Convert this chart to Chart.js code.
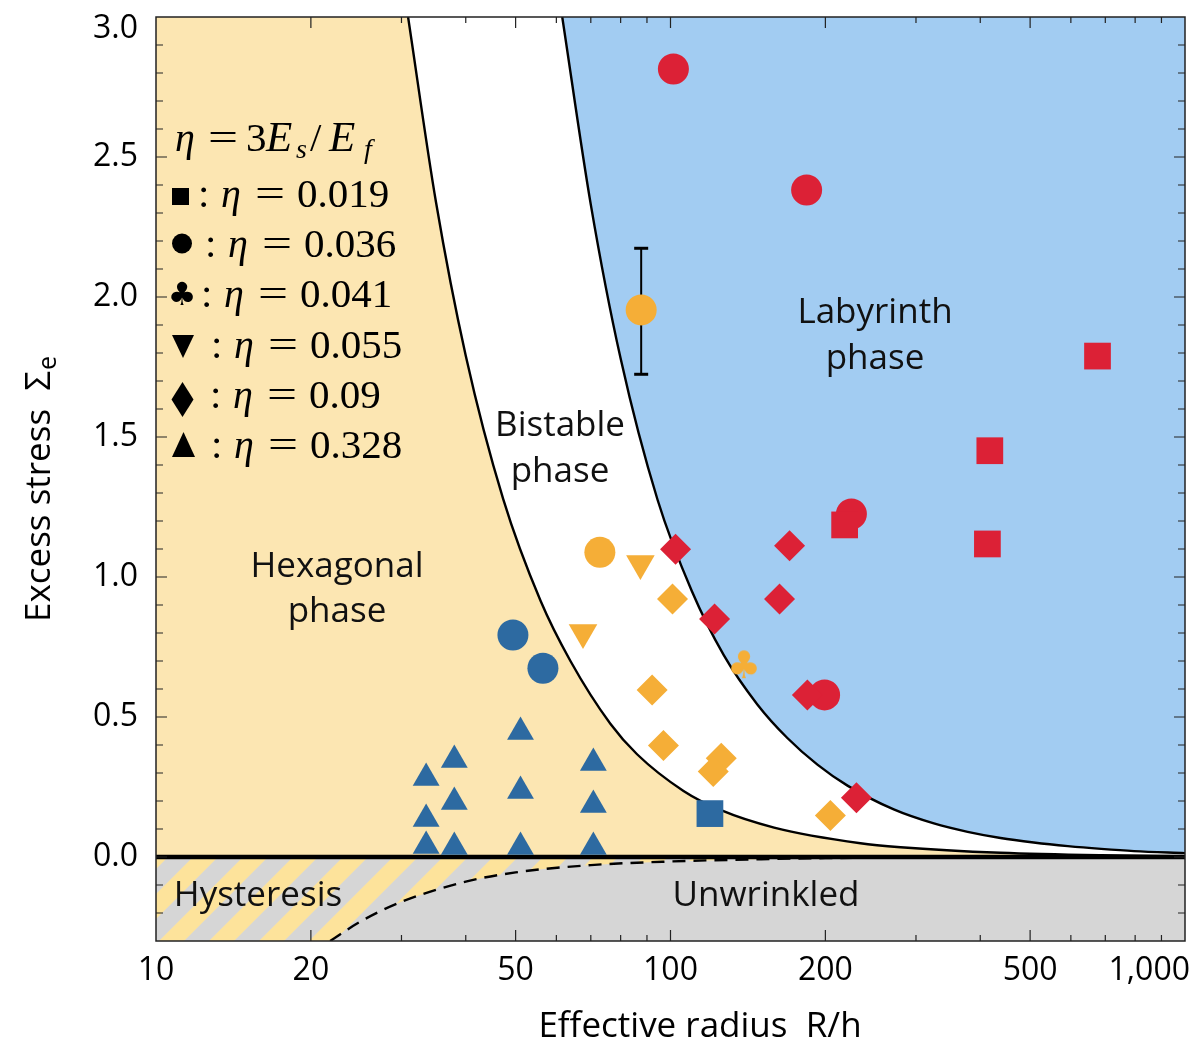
<!DOCTYPE html>
<html>
<head>
<meta charset="utf-8">
<script src="https://cdn.jsdelivr.net/npm/chart.js@4.4.1/dist/chart.umd.min.js"></script>
<style>
  html, body { margin: 0; padding: 0; overflow: hidden; background: #fff; }
  #wrap { width: 1194px; height: 1043px; }
  canvas { display: block; }
</style>
</head>
<body>
<div id="wrap"><canvas id="myChart"></canvas></div>
<script>
// axis ranges and ticks
const xMin = 10, xMax = 1000;
const yMin = -0.3, yMax = 3.0;
const xTickLabels = [10, 20, 50, 100, 200, 500, 1000];
const xMinorTicks = [30, 40, 60, 70, 80, 90, 300, 400, 600, 700, 800, 900];
const yTickLabels = [0, 0.5, 1.0, 1.5, 2.0, 2.5, 3.0];
const yMinorTicks = [-0.2, -0.1, 0.1, 0.2, 0.3, 0.4, 0.6, 0.7, 0.8, 0.9, 1.1, 1.2, 1.3, 1.4,
  1.6, 1.7, 1.8, 1.9, 2.1, 2.2, 2.3, 2.4, 2.6, 2.7, 2.8, 2.9];

// phase boundaries (R/h, excess stress)
const hexEdgeR = [30.9, 35, 40, 47.3, 55.9, 63.9, 76.4, 86.1, 106, 125, 159, 234, 280, 438, 687, 1000];
const hexEdgeS = [3.0, 2.34, 1.79, 1.278, 0.915, 0.70, 0.476, 0.367, 0.236, 0.168, 0.105, 0.049, 0.035, 0.015, 0.006, 0.003];
const labEdgeR = [61.6, 70, 80, 94.4, 110, 127, 147.5, 168.7, 193, 220.8, 271.6, 325, 378, 438, 508, 592, 687, 796, 1000];
const labEdgeS = [3.0, 2.33, 1.78, 1.275, 0.95, 0.72, 0.545, 0.425, 0.33, 0.255, 0.17, 0.12, 0.09, 0.068, 0.052, 0.039, 0.029, 0.021, 0.014];
const flatEdgeR = [21.8, 25, 30, 40, 50, 70, 100, 150, 200, 400, 1000];
const flatEdgeS = [-0.3, -0.23, -0.16, -0.088, -0.055, -0.029, -0.016, -0.008, -0.004, -0.001, 0];

// eta = 0.019 (squares)
const sqRedR = [676, 417.5, 413, 218];
const sqRedS = [1.789, 1.451, 1.118, 1.186];
const sqBlueR = [119.3];
const sqBlueS = [0.155];
// eta = 0.036 (circles)
const ciRedR = [101.3, 183.9, 224.7, 199.3];
const ciRedS = [2.814, 2.382, 1.225, 0.579];
const ciOrangeR = [87.7, 72.9];
const ciOrangeS = [1.954, 1.088];
const ciBlueR = [49.4, 56.5];
const ciBlueS = [0.793, 0.674];
// error bar on the orange circle
const errR = [87.7];
const errLow = [1.724];
const errHigh = [2.174];
// eta = 0.041 (club)
const clubR = [138.9];
const clubS = [0.678];
// eta = 0.055 (down triangles)
const tdOrangeR = [87.4, 67.6];
const tdOrangeS = [1.048, 0.802];
// eta = 0.09 (diamonds)
const diRedR = [102.3, 170.4, 162.9, 121.8, 184.5, 229.8];
const diRedS = [1.099, 1.112, 0.921, 0.850, 0.579, 0.212];
const diOrangeR = [100.9, 92.1, 96.9, 125.5, 121.1, 204.5];
const diOrangeS = [0.921, 0.596, 0.398, 0.353, 0.305, 0.148];
// eta = 0.328 (up triangles)
const tuBlueR = [33.5, 33.5, 33.5, 38.0, 38.0, 38.0, 51.1, 51.1, 51.1, 70.8, 70.8, 70.8];
const tuBlueS = [0.282, 0.136, 0.039, 0.346, 0.196, 0.036, 0.446, 0.236, 0.036, 0.336, 0.186, 0.036];

const RED = '#DC2136', ORANGE = '#F5AE37', BLUE = '#2D6AA1';
const TAN = '#FCE6B2', SKY = '#A2CCF2', GREY = '#D6D6D6', STRIPE = '#FDE39B';
const SANS = '"Open Sans", "Noto Sans", sans-serif';
const SERIF = '"Liberation Serif", "DejaVu Serif", serif';

const pts = (xs, ys) => xs.map((v, i) => ({x: v, y: ys[i]}));

function markers(xs, ys, color, style, radius, rotation) {
  return {
    data: pts(xs, ys),
    pointStyle: style,
    pointRadius: radius,
    pointRotation: rotation || 0,
    pointBackgroundColor: color,
    pointBorderWidth: 0,
    showLine: false,
    order: 1,
  };
}

function boundary(xs, ys, fill, color, order, dash) {
  return {
    type: 'line',
    data: pts(xs, ys),
    borderColor: '#000',
    borderWidth: 2.4,
    borderDash: dash || [],
    pointRadius: 0,
    fill: fill,
    backgroundColor: color,
    cubicInterpolationMode: 'monotone',
    order: order,
  };
}

function clubImage() {
  let c = document.createElement('canvas');
  c.width = 44; c.height = 44;
  let g = c.getContext('2d');
  g.fillStyle = ORANGE;
  g.font = '38px "DejaVu Sans"';
  g.textAlign = 'center';
  g.textBaseline = 'middle';
  g.fillText('\u2663', 22, 23);
  return c;
}

function hatchTile() {
  let c = document.createElement('canvas');
  c.width = 50; c.height = 50;
  let g = c.getContext('2d');
  g.fillStyle = GREY;
  g.fillRect(0, 0, 50, 50);
  g.fillStyle = STRIPE;
  g.beginPath(); g.moveTo(0, 0); g.lineTo(25, 0); g.lineTo(0, 25); g.closePath(); g.fill();
  g.beginPath(); g.moveTo(50, 0); g.lineTo(50, 25); g.lineTo(25, 50); g.lineTo(0, 50); g.closePath(); g.fill();
  return c;
}

function text(ctx, s, x, y, font, scaleX) {
  ctx.save();
  ctx.font = font;
  ctx.translate(x, y);
  ctx.scale(scaleX || 1, 1);
  ctx.fillText(s, 0, 0);
  ctx.restore();
}

function drawLegend(ctx) {
  ctx.save();
  ctx.fillStyle = '#000';
  ctx.textAlign = 'left';
  ctx.textBaseline = 'alphabetic';
  const it = 'italic 40px ' + SERIF, rm = '41px ' + SERIF, sub = 'italic 28px ' + SERIF;
  const bigE = 'italic 43px ' + SERIF;
  // header line
  text(ctx, '\u03B7', 175, 151, it);
  text(ctx, '=', 208, 151, rm, 1.3);
  text(ctx, '3', 246, 151, rm);
  text(ctx, 'E', 266, 151, bigE);
  text(ctx, 's', 296, 158, sub);
  text(ctx, '/', 310, 151, rm);
  text(ctx, 'E', 329, 151, bigE);
  text(ctx, 'f', 364, 158, sub);

  const values = ['0.019', '0.036', '0.041', '0.055', '0.09', '0.328'];
  const colonX = [198, 205, 201, 211, 210, 211];
  const base = [207, 257, 307, 358, 408, 458];
  values.forEach((v, i) => {
    const cx = colonX[i], by = base[i];
    text(ctx, ':', cx, by, rm);
    text(ctx, '\u03B7', cx + 23, by, it);
    text(ctx, '=', cx + 57, by, rm, 1.3);
    text(ctx, v, cx + 99, by, rm);
  });

  // symbols
  ctx.fillRect(172, 188, 17, 17);
  ctx.beginPath(); ctx.arc(182, 243.5, 10, 0, Math.PI * 2); ctx.fill();
  ctx.font = '32px "DejaVu Sans"';
  ctx.textAlign = 'center';
  ctx.textBaseline = 'middle';
  ctx.fillText('\u2663', 182, 297);
  ctx.beginPath(); ctx.moveTo(172, 335); ctx.lineTo(194, 335); ctx.lineTo(183, 358); ctx.closePath(); ctx.fill();
  ctx.beginPath(); ctx.moveTo(182.5, 382); ctx.lineTo(193.5, 399.5); ctx.lineTo(182.5, 417); ctx.lineTo(171.5, 399.5); ctx.closePath(); ctx.fill();
  ctx.beginPath(); ctx.moveTo(172, 457); ctx.lineTo(195, 457); ctx.lineTo(183.5, 432); ctx.closePath(); ctx.fill();
  ctx.restore();
}

const decor = {
  id: 'decor',
  beforeDatasetsDraw(chart) {
    const {ctx, chartArea: a, scales: {y}} = chart;
    const y0 = y.getPixelForValue(0);
    ctx.save();
    ctx.fillStyle = TAN;
    ctx.fillRect(a.left, a.top, a.width, y0 - a.top);
    ctx.fillStyle = ctx.createPattern(hatchTile(), 'repeat');
    ctx.fillRect(a.left, y0, a.width, a.bottom - y0);
    ctx.restore();
  },
  afterDatasetsDraw(chart) {
    const ctx = chart.ctx;
    ctx.save();
    ctx.fillStyle = '#111';
    ctx.font = '35px ' + SANS;
    ctx.textAlign = 'center';
    ctx.textBaseline = 'middle';
    ctx.fillText('Hexagonal', 337, 567);
    ctx.fillText('phase', 337, 612);
    ctx.fillText('Bistable', 560, 426);
    ctx.fillText('phase', 560, 472);
    ctx.fillText('Labyrinth', 875, 313);
    ctx.fillText('phase', 875, 359);
    ctx.fillText('Hysteresis', 258, 896);
    ctx.fillText('Unwrinkled', 766, 896);
    ctx.restore();
    drawLegend(ctx);
  },
  afterDraw(chart) {
    const {ctx, chartArea: a, scales: {x, y}} = chart;
    ctx.save();
    ctx.strokeStyle = '#222';
    ctx.lineWidth = 1.5;
    ctx.strokeRect(a.left, a.top, a.width, a.height);

    ctx.lineWidth = 1.2;
    ctx.beginPath();
    const xt = xTickLabels.map(v => [v, 11]).concat(xMinorTicks.map(v => [v, 6]));
    for (const [v, len] of xt) {
      const px = x.getPixelForValue(v);
      if (px <= a.left + 1 || px >= a.right - 1) continue;
      ctx.moveTo(px, a.bottom); ctx.lineTo(px, a.bottom - len);
      ctx.moveTo(px, a.top); ctx.lineTo(px, a.top + len);
    }
    const yt = yTickLabels.map(v => [v, 11]).concat(yMinorTicks.map(v => [v, 7]));
    for (const [v, len] of yt) {
      const py = y.getPixelForValue(v);
      if (py <= a.top + 1 || py >= a.bottom - 1) continue;
      ctx.moveTo(a.left, py); ctx.lineTo(a.left + len, py);
      ctx.moveTo(a.right, py); ctx.lineTo(a.right - len, py);
    }
    ctx.stroke();

    ctx.fillStyle = '#000';
    ctx.font = '32px ' + SANS;
    ctx.textBaseline = 'middle';
    ctx.textAlign = 'center';
    for (const v of xTickLabels) {
      const s = v.toLocaleString('en-US');
      const w = ctx.measureText(s).width;
      let px = x.getPixelForValue(v);
      if (px + w / 2 > 1190) px = 1190 - w / 2;
      ctx.fillText(s, px, 971);
    }
    ctx.textAlign = 'right';
    for (const v of yTickLabels) {
      const py = Math.max(y.getPixelForValue(v), 29);
      ctx.fillText(v.toFixed(1), a.left - 18, py);
    }

    ctx.font = '35px ' + SANS;
    ctx.textAlign = 'center';
    ctx.fillText('Effective radius  R/h', 700, 1027);

    ctx.translate(40, 622);
    ctx.rotate(-Math.PI / 2);
    ctx.textAlign = 'left';
    const title = 'Excess stress  \u03A3';
    ctx.fillText(title, 0, 0);
    const tw = ctx.measureText(title).width;
    ctx.font = '25px ' + SANS;
    ctx.fillText('e', tw + 1, 9);
    ctx.restore();
  }
};

const ctx = document.getElementById('myChart');
new Chart(ctx, {
  type: 'scatter',
  data: {
    datasets: [
      markers(tuBlueR, tuBlueS, BLUE, 'triangle', 15.5),
      markers(sqBlueR, sqBlueS, BLUE, 'rect', 18.9),
      markers(ciBlueR, ciBlueS, BLUE, 'circle', 15.5),
      markers(diOrangeR, diOrangeS, ORANGE, 'rectRot', 15.5),
      markers(tdOrangeR, tdOrangeS, ORANGE, 'triangle', 16.5, 180),
      markers(clubR, clubS, ORANGE, clubImage(), 15),
      markers(ciOrangeR, ciOrangeS, ORANGE, 'circle', 15.5),
      markers(diRedR, diRedS, RED, 'rectRot', 15.5),
      markers(sqRedR, sqRedS, RED, 'rect', 18.9),
      markers(ciRedR, ciRedS, RED, 'circle', 15.5),
      {
        type: 'line',
        data: pts([errR[0], errR[0]], [errLow[0], errHigh[0]]),
        borderColor: '#000',
        borderWidth: 2,
        pointStyle: 'line',
        pointRadius: 7,
        pointBorderWidth: 3,
        pointBorderColor: '#000',
        fill: false,
        order: 10,
      },
      {
        type: 'line',
        data: pts([xMin, xMax], [0, 0]),
        borderColor: '#000',
        borderWidth: 4.5,
        pointRadius: 0,
        fill: false,
        order: 20,
      },
      boundary(flatEdgeR, flatEdgeS, 'start', GREY, 30, [13, 8]),
      boundary(labEdgeR, labEdgeS, 'end', SKY, 30),
      boundary(hexEdgeR, hexEdgeS, 'end', '#FFFFFF', 40),
    ]
  },
  options: {
    responsive: true,
    maintainAspectRatio: false,
    animation: false,
    events: [],
    layout: { autoPadding: false, padding: { left: 156, right: 9, top: 17, bottom: 102 } },
    scales: {
      x: { type: 'logarithmic', min: xMin, max: xMax, display: false },
      y: { type: 'linear', min: yMin, max: yMax, display: false },
    },
    plugins: {
      legend: { display: false },
      tooltip: { enabled: false },
    }
  },
  plugins: [decor]
});
</script>
</body>
</html>
